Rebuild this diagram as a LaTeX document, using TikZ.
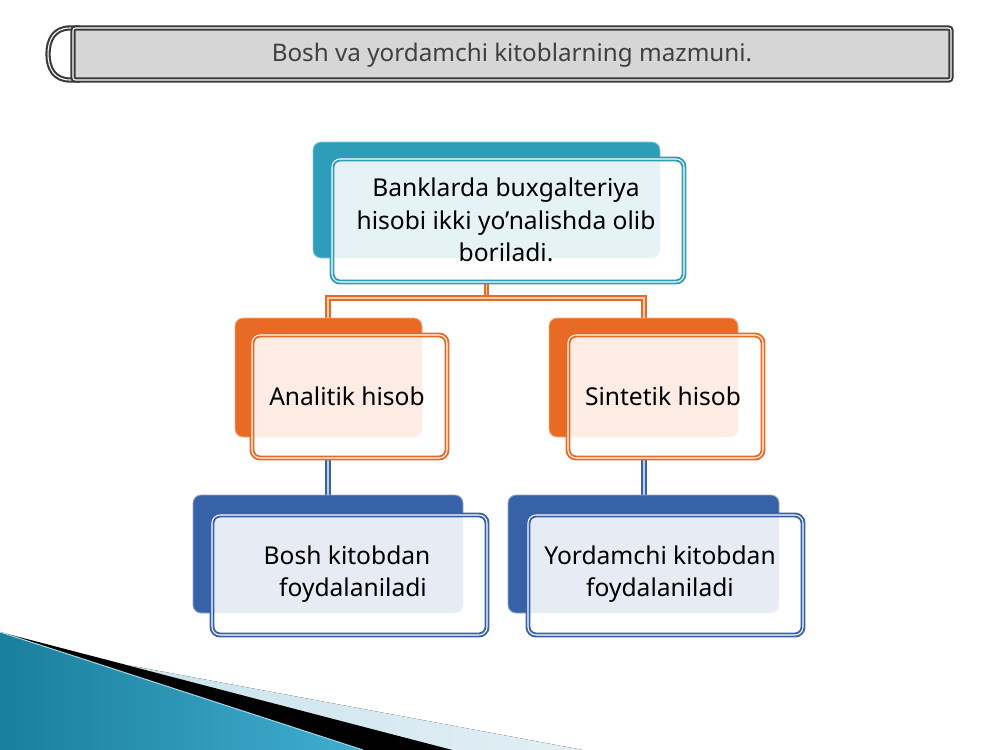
\documentclass[tikz,border=0pt]{standalone}
\usepackage{fontspec}
\setmainfont{Noto Sans}
\usetikzlibrary{fit,backgrounds}
\definecolor{tealc}{HTML}{2E9DB9}
\definecolor{orng}{HTML}{E96A24}
\definecolor{blu}{HTML}{3862A8}
\definecolor{bardark}{HTML}{3A3A3A}
\definecolor{bargray}{HTML}{D6D6D6}
\definecolor{titletxt}{HTML}{404040}
\definecolor{decodark}{HTML}{1A7F9C}
\definecolor{decolight}{HTML}{40AED0}
\definecolor{palea}{HTML}{CBE3EC}
\definecolor{paleb}{HTML}{E2EFF4}
\begin{document}
\begin{tikzpicture}[x=0.02cm,y=-0.02cm,
  backbox/.style={fill=#1, draw=#1!55!white, line width=0.5pt, rounded corners=1.6mm, inner sep=0pt},
  frontbox/.style={draw=#1, double=white, double distance=0.6pt, line width=1.1pt,
    fill=white, fill opacity=0.88, rounded corners=1.6mm, inner sep=0pt},
  boxtext/.style={align=center, text=black, inner sep=0pt, font=\fontsize{14pt}{18.6pt}\selectfont},
  oconn/.style={draw=orng, double=orng!35!white, double distance=0.8pt, line width=1.1pt},
  bconn/.style={draw=blu, double=blu!30!white, double distance=0.8pt, line width=1.1pt},
  titlebar/.style={draw=bardark, double=white, double distance=0.6pt, line width=1.2pt,
    fill=bargray, rounded corners=0.5mm, inner sep=0pt},
  titletext/.style={text=titletxt, inner sep=0pt, font=\fontsize{13.8pt}{16pt}\selectfont}
]
\useasboundingbox (0,0) rectangle (1000,750);

% bottom-left decoration
\fill[left color=decodark, right color=decolight] (0,632) -- (363,750) -- (0,750) -- cycle;
\fill[black] (0,632) -- (453,750) -- (363,750) -- cycle;
\fill[left color=palea, right color=paleb] (127,665) -- (583,750) -- (453,750) -- cycle;
\draw[color=decolight!50!white, line width=0.6pt] (0,632) -- (363,750);

% title bar
\draw[draw=bardark, double=white, double distance=0.6pt, line width=1.2pt, fill=white]
  (80,28) -- (70,28) .. controls (54,28) and (48,40) .. (48,54)
  .. controls (48,68) and (54,80) .. (70,80) -- (80,80);
\node[titlebar, fit={(73,28)(951,80)}] (title) {};
\node[titletext] (titlelbl) at (512,55) {Bosh va yordamchi kitoblarning mazmuni.};

% boxes
\node[backbox=tealc, fit={(313,142)(660,258)}] (tback) {};
\node[frontbox=tealc, fit={(332,159)(684,282)}] (tfront) {};
\node[boxtext] (tlbl) at (506,220) {Banklarda buxgalteriya\\hisobi ikki yo’nalishda olib\\boriladi.};

\node[backbox=orng, fit={(235,318)(422,437)}] (lback) {};
\node[frontbox=orng, fit={(252,335)(447,458)}] (lfront) {};
\node[boxtext] (llbl) at (347,396) {Analitik hisob};
\node[backbox=orng, fit={(549,318)(738,437)}] (rback) {};
\node[frontbox=orng, fit={(568,335)(763,458)}] (rfront) {};
\node[boxtext] (rlbl) at (663,396) {Sintetik hisob};

\node[backbox=blu, fit={(193,495)(463,613)}] (lbback) {};
\node[frontbox=blu, fit={(212,515)(487,635)}] (lbfront) {};
\node[boxtext] (lblbl) at (347,574) {Bosh kitobdan\\\hspace*{6.8pt}foydalaniladi};
\node[backbox=blu, fit={(508,495)(779,613)}] (rbback) {};
\node[frontbox=blu, fit={(528,515)(803,635)}] (rbfront) {};
\node[boxtext] (rblbl) at (660,574) {Yordamchi kitobdan\\foydalaniladi};

% connectors
\begin{scope}[on background layer]
\fill[white] (0,0) rectangle (1000,750);
\coordinate (jt) at (486.5,298);
\coordinate (cl) at (328,298);
\coordinate (cr) at (644,298);
\draw[oconn] (tfront.south -| jt) -- (jt);
\draw[oconn] (lback.north -| cl) -- (cl) -- (cr) -- (rback.north -| cr);
\draw[bconn] (lfront.south -| cl) -- (lbback.north -| cl);
\draw[bconn] (rfront.south -| cr) -- (rbback.north -| cr);
\end{scope}
\end{tikzpicture}
\end{document}
